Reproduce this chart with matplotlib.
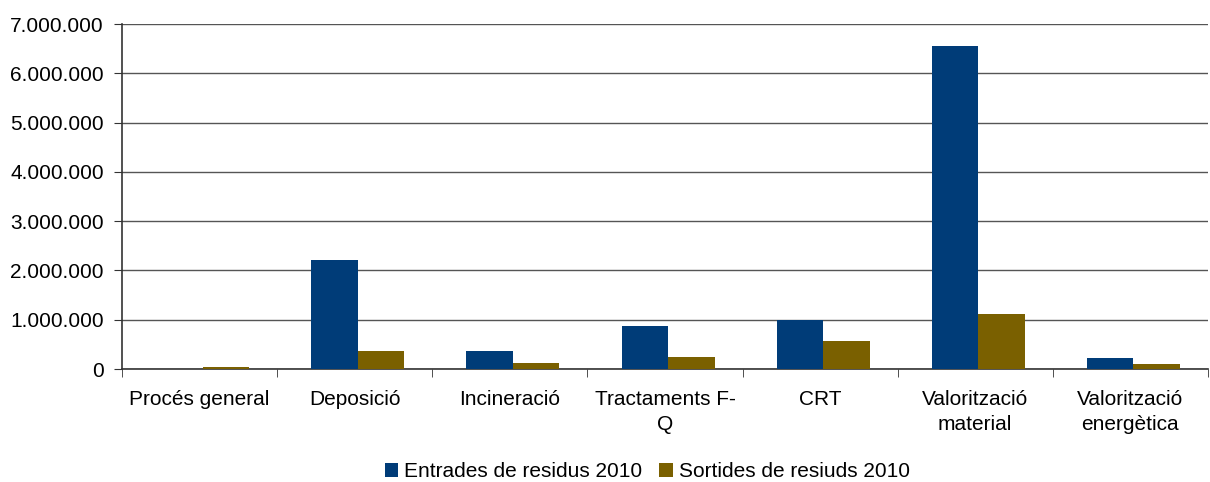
import matplotlib
matplotlib.use("Agg")
import matplotlib.pyplot as plt
import numpy as np
from matplotlib.ticker import FuncFormatter

plt.rcParams['font.family'] = ['Liberation Sans', 'DejaVu Sans']

categories = ["Procés general", "Deposició", "Incineració", "Tractaments F-\nQ", "CRT",
              "Valorització\nmaterial", "Valorització\nenergètica"]
entrades = [5000, 2210000, 365000, 870000, 1000000, 6550000, 223000]
sortides = [40000, 365000, 120000, 240000, 570000, 1120000, 100000]
series_names = ["Entrades de residus 2010", "Sortides de resiuds 2010"]
colors = ["#003C78", "#7A6000"]

fig = plt.figure(figsize=(12.1, 4.82), dpi=100)
ax = fig.add_axes([0.1008, 0.2344, 0.8975, 0.7156])

x = np.arange(len(categories))
w = 0.3
ax.bar(x - w/2 + 0.02, entrades, w, color=colors[0], label=series_names[0], zorder=3)
ax.bar(x + w/2 + 0.02, sortides, w, color=colors[1], label=series_names[1], zorder=3)

ax.set_xlim(-0.5, len(categories) - 0.5)
ax.set_ylim(0, 7000000)
ax.set_yticks(np.arange(0, 7000001, 1000000))
ax.yaxis.set_major_formatter(FuncFormatter(lambda v, p: f"{int(v):,}".replace(",", ".")))
ax.grid(axis='y', color='#555555', linewidth=1, zorder=0)

ax.set_xticks(x)
ax.set_xticklabels(categories, fontsize=15, linespacing=1.4)
ax.set_xticks(np.arange(-0.5, len(categories), 1), minor=True)
ax.tick_params(axis='x', which='major', length=0, pad=15)
ax.tick_params(axis='x', which='minor', length=6, color='#333333', direction='out')
ax.tick_params(axis='y', labelsize=15, length=6, color='#333333', direction='out', pad=7)

for s in ['top', 'right']:
    ax.spines[s].set_visible(False)
ax.spines['left'].set_color('#333333')
ax.spines['bottom'].set_color('#333333')
ax.spines['left'].set_linewidth(1.2)
ax.spines['bottom'].set_linewidth(1.2)

leg = fig.legend(loc='lower center', bbox_to_anchor=(0.535, -0.037), ncol=2, frameon=False,
                 fontsize=15, handlelength=0.65, handleheight=0.65, handletextpad=0.3,
                 columnspacing=0.8)

fig.savefig("out.png", dpi=100)
